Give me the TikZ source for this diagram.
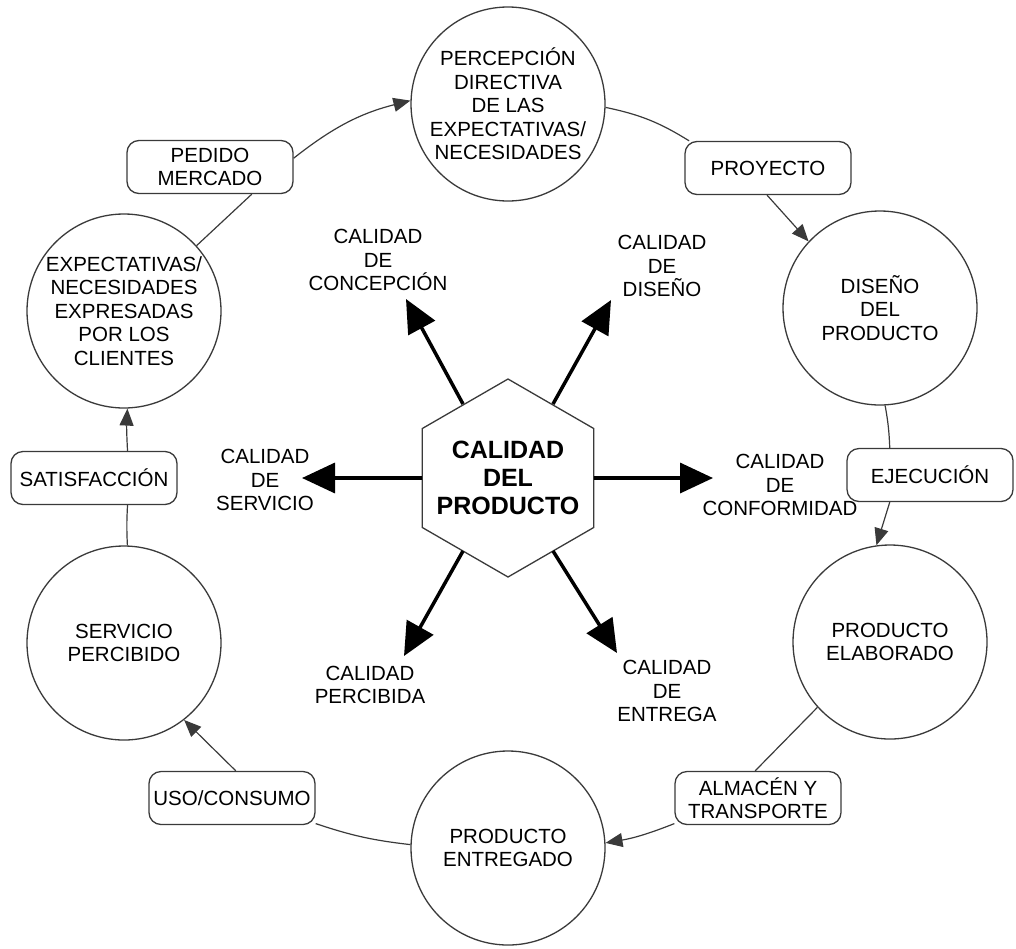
\documentclass[tikz,border=0pt]{standalone}
\usepackage{fontspec}
\setmainfont{Liberation Sans}
\usetikzlibrary{arrows.meta,calc}
\definecolor{linegray}{HTML}{3A3A3A}
\begin{document}
\begin{tikzpicture}[x=1pt,y=-1pt,
  stage/.style={circle,draw=linegray,line width=1.3pt,minimum size=194pt,inner sep=0pt,
    align=center,font=\fontsize{20.5}{23.5}\selectfont},
  flowbox/.style={rounded corners=12pt,draw=linegray,line width=1.3pt,minimum width=166pt,
    minimum height=53pt,inner sep=0pt,align=center,font=\fontsize{20.5}{23.5}\selectfont},
  flow/.style={line width=1.2pt,draw=linegray},
  flowarrow/.style={flow,-{Triangle[length=17pt,width=14pt]}},
  aspect/.style={line width=3.5pt,-{Triangle[length=33pt,width=30pt]}},
  aspectlabel/.style={align=center,inner sep=0pt,font=\fontsize{20.5}{23.5}\selectfont},
  corelabel/.style={align=center,inner sep=0pt,font=\bfseries\fontsize{25}{28}\selectfont},
]
\useasboundingbox (0,0) rectangle (1016,948);

% cycle stages
\node[stage] (perc)   at (508,104) {PERCEPCIÓN\\DIRECTIVA\\DE LAS\\EXPECTATIVAS/\\NECESIDADES};
\node[stage] (diseno) at (880,308) {DISEÑO\\DEL\\PRODUCTO};
\node[stage] (elab)   at (890,642) {PRODUCTO\\ELABORADO};
\node[stage] (entreg) at (508,848) {PRODUCTO\\ENTREGADO};
\node[stage] (serv)   at (124,643) {SERVICIO\\PERCIBIDO};
\node[stage] (expect) at (124,311) {EXPECTATIVAS/\\NECESIDADES\\EXPRESADAS\\POR LOS\\CLIENTES};

% transitions
\node[flowbox] (pedido) at (210,167) {PEDIDO\\MERCADO};
\node[flowbox] (proy)   at (768,168) {PROYECTO};
\node[flowbox] (ejec)   at (930,475) {EJECUCIÓN};
\node[flowbox] (almac)  at (758,798) {ALMACÉN Y\\TRANSPORTE};
\node[flowbox] (uso)    at (232,798) {USO/CONSUMO};
\node[flowbox] (satis)  at (94,478)  {SATISFACCIÓN};

% cycle connectors
\draw[flow] (expect.42) -- (pedido.-33);
\draw[flowarrow] (pedido.6) to[bend left=12] (perc.178);
\draw[flow] (perc.-2) to[bend left=10] (proy.161);
\draw[flowarrow] (proy.-92) -- (diseno.137);
\draw[flow] (diseno.-87) to[bend left=4] (ejec.146);
\draw[flowarrow] (ejec.214) -- (elab.98);
\draw[flow] (elab.222) -- (almac.96);
\draw[flowarrow] (almac.197) to[bend left=6] (entreg.3);
\draw[flow] (entreg.178) to[bend left=6] (uso.-17);
\draw[flowarrow] (uso.82) -- (serv.-52);
\draw[flow] (serv.88) to[bend left=3] (satis.-39);
\draw[flowarrow] (satis.39) to[bend left=3] (expect.-88);

% central hexagon
\draw[linegray,line width=1.3pt,fill=white]
  (508,379) -- (593.7,428.5) -- (593.7,527.5) -- (508,577) -- (422.3,527.5) -- (422.3,428.5) -- cycle;
\node[corelabel] (core) at (508,478) {CALIDAD\\DEL\\PRODUCTO};

% aspect arrows
\coordinate (sUL) at (463,404);  \coordinate (tUL) at (406,299);
\coordinate (sUR) at (553,404);  \coordinate (tUR) at (611,300);
\coordinate (sL)  at (422.3,478); \coordinate (tL) at (302,478);
\coordinate (sR)  at (593.7,478); \coordinate (tR) at (713,478);
\coordinate (sDL) at (463,551);  \coordinate (tDL) at (404,656);
\coordinate (sDR) at (553,551);  \coordinate (tDR) at (617,653);
\foreach \s/\t in {sUL/tUL,sUR/tUR,sL/tL,sR/tR,sDL/tDL,sDR/tDR}
  \draw[aspect] (\s) -- (\t);

\node[aspectlabel] (concep) at (378,260) {CALIDAD\\DE\\CONCEPCIÓN};
\node[aspectlabel] (disq)   at (662,266) {CALIDAD\\DE\\DISEÑO};
\node[aspectlabel] (servq)  at (265,480) {CALIDAD\\DE\\SERVICIO};
\node[aspectlabel] (confq)  at (780,485) {CALIDAD\\DE\\CONFORMIDAD};
\node[aspectlabel] (percq)  at (370,685) {CALIDAD\\PERCIBIDA};
\node[aspectlabel] (entq)   at (667,691) {CALIDAD\\DE\\ENTREGA};
\end{tikzpicture}
\end{document}
